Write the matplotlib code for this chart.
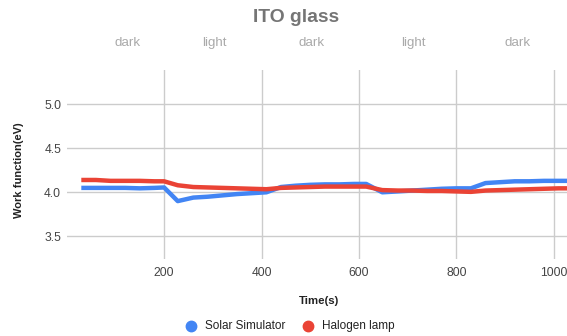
import matplotlib
matplotlib.use("Agg")
import matplotlib.pyplot as plt
from matplotlib.lines import Line2D

# Measurement times (s)
time_s = [30, 60, 90, 120, 150, 180, 200, 228, 260, 290, 320, 350, 380, 410,
          440, 470, 500, 530, 560, 590, 615, 648, 680, 710, 740, 770, 800,
          830, 860, 890, 920, 950, 980, 1010, 1040]

# Work function (eV) under each light source
solar_simulator = [4.05, 4.05, 4.05, 4.05, 4.045, 4.05, 4.055, 3.90, 3.94,
                   3.95, 3.965, 3.98, 3.99, 4.00, 4.06, 4.075, 4.085, 4.09,
                   4.09, 4.095, 4.095, 4.00, 4.01, 4.02, 4.03, 4.04, 4.045,
                   4.045, 4.105, 4.115, 4.125, 4.125, 4.13, 4.13, 4.13]
halogen_lamp = [4.14, 4.14, 4.13, 4.13, 4.13, 4.125, 4.125, 4.08, 4.06,
                4.055, 4.05, 4.045, 4.04, 4.035, 4.05, 4.055, 4.06, 4.065,
                4.065, 4.065, 4.065, 4.025, 4.02, 4.02, 4.015, 4.015, 4.01,
                4.005, 4.02, 4.025, 4.03, 4.035, 4.04, 4.045, 4.045]

series_names = ["Solar Simulator", "Halogen lamp"]
series_colors = ["#4285F4", "#EA4335"]

x_ticks = [200, 400, 600, 800, 1000]
y_ticks = [3.5, 4.0, 4.5, 5.0]

phase_labels = ["dark", "light", "dark", "light", "dark"]
phase_centers = [126, 303, 503, 711, 925]

plt.rcParams["font.family"] = ["Liberation Sans", "DejaVu Sans"]

W, H = 567, 336
fig = plt.figure(figsize=(W / 100, H / 100), dpi=100)


def fx(px):
    return px / W


def fy(py):
    return 1 - py / H


left, right, top, bottom = 66.7, 567, 70, 259
ax = fig.add_axes([fx(left), fy(bottom), fx(right - left), (bottom - top) / H])

ax.plot(time_s, solar_simulator, color=series_colors[0], lw=3.2,
        solid_joinstyle="round", solid_capstyle="butt", zorder=3)
ax.plot(time_s, halogen_lamp, color=series_colors[1], lw=3.2,
        solid_joinstyle="round", solid_capstyle="butt", zorder=4)

ax.set_xlim(0, (right - left) / 0.487)
ax.set_ylim(4.0 - (bottom - 192.3) / 88, 4.0 + (192.3 - top) / 88)

ax.set_xticks(x_ticks)
ax.set_xticklabels([str(v) for v in x_ticks])
ax.set_yticks(y_ticks)
ax.set_yticklabels([f"{v:.1f}" for v in y_ticks])
ax.tick_params(length=0, labelsize=8.7, labelcolor="#444444")
ax.tick_params(axis="y", pad=4)
ax.tick_params(axis="x", pad=6)
ax.grid(True, color="#cccccc", lw=1)
ax.set_axisbelow(True)
for s in ax.spines.values():
    s.set_visible(False)

# Title and phase annotations
fig.text(fx(296), fy(18), "ITO glass", ha="center", va="center",
         fontsize=13.9, fontweight="bold", color="#757575")
for lab, t in zip(phase_labels, phase_centers):
    px = left + t * 0.487
    fig.text(fx(px), fy(43), lab, ha="center", va="center",
             fontsize=9.6, color="#aaaaaa")

# Axis titles
fig.text(fx(319), fy(301), "Time(s)", ha="center", va="center",
         fontsize=8.2, fontweight="bold", color="#222222")
fig.text(fx(19), fy(170), "Work function(eV)", ha="center", va="center",
         rotation=90, fontsize=8.0, fontweight="bold", color="#222222")

# Legend
legend_dots = [190.6, 308]
legend_text_x = [205, 322]
for name, col, dx, tx in zip(series_names, series_colors, legend_dots, legend_text_x):
    fig.add_artist(Line2D([fx(dx)], [fy(326)], marker="o", markersize=7.5,
                          color=col, lw=0, transform=fig.transFigure))
    fig.text(fx(tx), fy(326), name, ha="left", va="center",
             fontsize=8.5, color="#222222")

fig.savefig("out.png", dpi=100)
